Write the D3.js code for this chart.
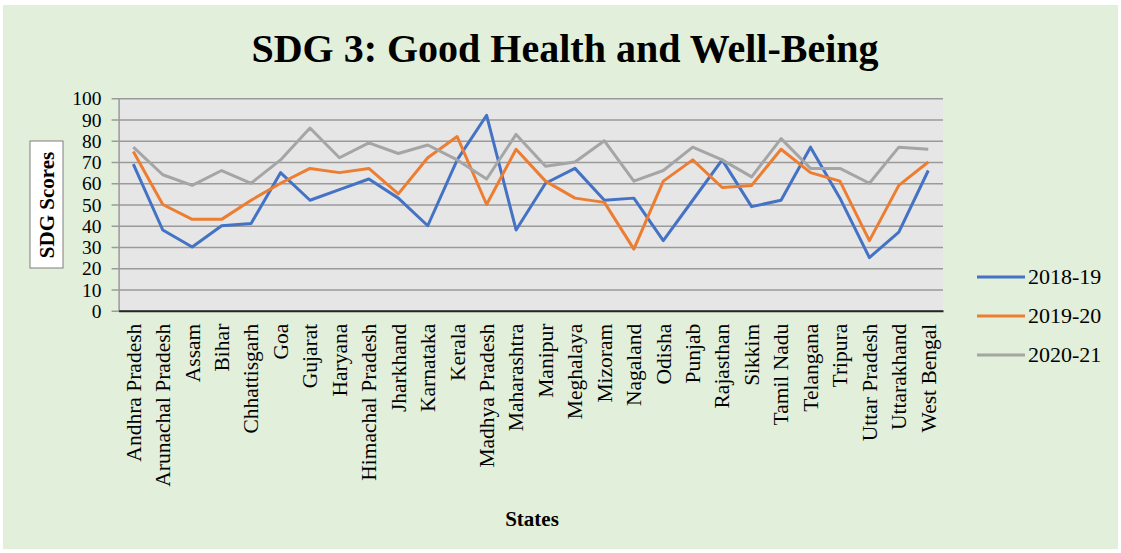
<!DOCTYPE html>
<html><head><meta charset="utf-8">
<script src="https://cdn.jsdelivr.net/npm/d3@7/dist/d3.min.js"></script>
<style>html,body{margin:0;padding:0;background:#fff;}svg{display:block;}</style>
</head><body>
<svg id="chart" width="1121" height="553"></svg>
<script>
const states = ["Andhra Pradesh","Arunachal Pradesh","Assam","Bihar","Chhattisgarh","Goa","Gujarat","Haryana","Himachal Pradesh","Jharkhand","Karnataka","Kerala","Madhya Pradesh","Maharashtra","Manipur","Meghalaya","Mizoram","Nagaland","Odisha","Punjab","Rajasthan","Sikkim","Tamil Nadu","Telangana","Tripura","Uttar Pradesh","Uttarakhand","West Bengal"];
const s2018 = [69,38,30,40,41,65,52,57,62,53,40,71,92,38,60,67,52,53,33,52,71,49,52,77,53,25,37,66];
const s2019 = [75,50,43,43,52,60,67,65,67,55,72,82,50,76,61,53,51,29,61,71,58,59,76,65,61,33,59,70];
const s2020 = [77,64,59,66,60,71,86,72,79,74,78,71,62,83,68,70,80,61,66,77,71,63,81,67,67,60,77,76];
const seriesNames = ["2018-19","2019-20","2020-21"];
const seriesColors = ["#4472C4","#ED7D31","#A5A5A5"];
const yTicks = [0,10,20,30,40,50,60,70,80,90,100];
const title = "SDG 3: Good Health and Well-Being";
const xTitle = "States";
const yTitle = "SDG Scores";

const series = [s2018, s2019, s2020];
const svg = d3.select("#chart");
const FONT = "'Liberation Serif','Times New Roman',serif";

svg.append("rect").attr("x",3).attr("y",5).attr("width",1115).attr("height",544).attr("fill","#E2EFDA");

const m = {left:118.6, right:943, top:98.3, bottom:310.7};
const x = d3.scaleBand().domain(states).range([m.left, m.right]).padding(0);
const y = d3.scaleLinear().domain([0,100]).range([m.bottom, m.top]);

svg.append("rect").attr("x",m.left).attr("y",m.top).attr("width",m.right-m.left).attr("height",m.bottom-m.top).attr("fill","#E6E6E6");

// y axis with gridlines
const yAxis = svg.append("g").attr("transform",`translate(${m.left},0)`)
  .call(d3.axisLeft(y).tickValues(yTicks).tickSize(-(m.right-m.left)).tickSizeOuter(0).tickPadding(0));
yAxis.select(".domain").attr("stroke","#9A9A9A").attr("stroke-width",1.5);
yAxis.selectAll(".tick line").attr("stroke","#9A9A9A").attr("stroke-width",1.6).attr("x1",-7);
yAxis.selectAll(".tick text").attr("x",-17).attr("font-family",FONT).attr("font-size",19.5).attr("fill","#000").attr("dy","0.34em");

// x axis
const xAxis = svg.append("g").attr("transform",`translate(0,${m.bottom})`)
  .call(d3.axisBottom(x).tickSize(0).tickSizeOuter(0));
xAxis.select(".domain").attr("stroke","#262626").attr("stroke-width",2);
xAxis.selectAll(".tick text")
  .attr("font-family",FONT).attr("font-size",21.5).attr("fill","#000")
  .attr("text-anchor","end").attr("transform","rotate(-90)")
  .attr("x",-13).attr("y",0).attr("dy","0.34em");

// lines
const line = d3.line().x((d,i)=>x(states[i])+x.bandwidth()/2).y(d=>y(d));
series.forEach((s,k)=>{
  svg.append("path").datum(s).attr("d",line).attr("fill","none")
    .attr("stroke",seriesColors[k]).attr("stroke-width",3).attr("stroke-linejoin","round");
});

// title
svg.append("text").attr("x",565).attr("y",62).attr("text-anchor","middle")
  .attr("font-family",FONT).attr("font-weight","bold").attr("font-size",40).attr("fill","#000").text(title);

// x title
svg.append("text").attr("x",532).attr("y",526).attr("text-anchor","middle")
  .attr("font-family",FONT).attr("font-weight","bold").attr("font-size",21).attr("fill","#000").text(xTitle);

// y title in box
svg.append("rect").attr("x",30).attr("y",141).attr("width",33).attr("height",127).attr("fill","#fff").attr("stroke","#7f7f7f").attr("stroke-width",1);
svg.append("text").attr("transform","translate(47,205) rotate(-90)").attr("text-anchor","middle").attr("dy","0.34em")
  .attr("font-family",FONT).attr("font-weight","bold").attr("font-size",21).attr("fill","#000").text(yTitle);

// legend
const leg = svg.append("g");
seriesNames.forEach((n,k)=>{
  const ly = 277 + k*39;
  leg.append("line").attr("x1",977).attr("x2",1025).attr("y1",ly).attr("y2",ly).attr("stroke",seriesColors[k]).attr("stroke-width",3);
  leg.append("text").attr("x",1028).attr("y",ly).attr("dy","0.34em").attr("font-family",FONT).attr("font-size",22).attr("fill","#000").text(n);
});
</script>
</body></html>
